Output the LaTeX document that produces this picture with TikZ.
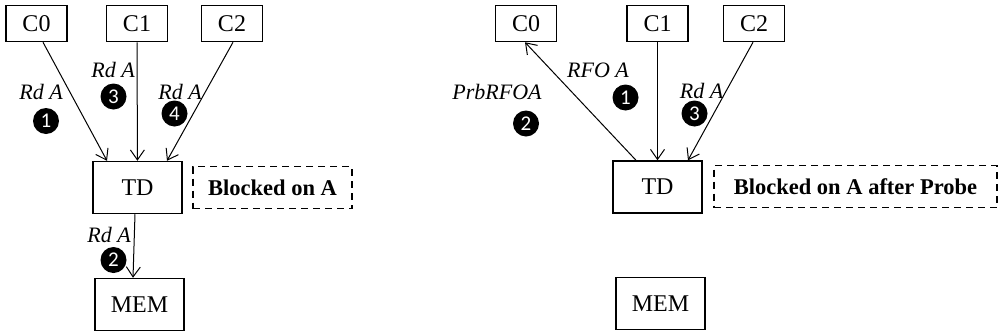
\documentclass[tikz,border=0pt]{standalone}
\usepackage{fontspec}
\setmainfont{Liberation Serif}
\newfontfamily\digitfont{Carlito}
\usetikzlibrary{shapes,arrows.meta}

\begin{document}
\begin{tikzpicture}[x=1pt, y=-1pt, line width=1pt,
    box/.style={draw, line width=1.5pt, minimum width=61pt, minimum height=36pt, inner sep=0pt, font=\fontsize{24}{28}\selectfont},
    bigbox/.style={box, minimum width=89pt, minimum height=52pt},
    note/.style={draw, line width=1.5pt, dash pattern=on 7pt off 5pt, minimum height=42pt, inner sep=0pt, font=\fontsize{22.5}{26}\selectfont\bfseries},
    msg/.style={inner sep=0pt, font=\fontsize{22}{25}\selectfont\itshape},
    num/.style={circle, fill=black, text=white, minimum size=26pt, inner sep=0pt, font=\digitfont\fontsize{21}{21}\selectfont},
    >={Straight Barb[length=10pt,width=14pt]}]
	\useasboundingbox (0,0) rectangle (1001,335);
	% left: plain read
	\foreach \i/\x in {0/36.5, 1/137, 2/232}
		\node[box] (a\i) at (\x,23.5) {C\i};
	\node[bigbox] (aTD) at (137.5,187.5) {TD};
	\node[bigbox] (aMEM) at (139.5,304.5) {MEM};
	\node[note, minimum width=159pt] (anote) at (272.5,187.5) {Blocked on A};
		\draw[->] ([xshift=6.5pt]a0.south) -- ([xshift=-30.5pt]aTD.north);
		\draw[->] (a1) -- (aTD);
		\draw[->] ([xshift=1pt]a2.south) -- ([xshift=29.5pt]aTD.north);
		\draw[->] ([xshift=-2.5pt]aTD.south) -- ([xshift=-6.5pt]aMEM.north);
	\node[msg] (ra1) at (41,92) {Rd A};
	\node[msg] (ra3) at (113,70) {Rd A};
	\node[msg] (ra4) at (180,92) {Rd A};
	\node[msg] (ra2) at (109,235) {Rd A};
	\node[num] (na1) at (46,121) {1};
	\node[num] (na3) at (113.5,96.5) {3};
	\node[num] (na4) at (174.5,113.5) {4};
	\node[num] (na2) at (113.5,260) {2};
	% right: RFO with probe
	\foreach \i/\x in {0/526, 1/657.5, 2/754}
		\node[box] (b\i) at (\x,23.5) {C\i};
	\node[bigbox] (bTD) at (657.5,187) {TD};
	\node[bigbox] (bMEM) at (660.5,303.5) {MEM};
	\node[note, minimum width=283pt] (bnote) at (855.5,186.5) {Blocked on A after Probe};
		\draw[->] ([xshift=-21.5pt]bTD.north) -- ([xshift=-1pt]b0.south);
		\draw[->] (b1) -- (bTD);
		\draw[->] ([xshift=-1pt]b2.south) -- ([xshift=30.5pt]bTD.north);
	\node[msg] (rb1) at (598,70) {RFO A};
	\node[msg] (rb2) at (497,92) {PrbRFOA};
	\node[msg] (rb3) at (701.5,91) {Rd A};
	\node[num] (nb1) at (625.5,97.5) {1};
	\node[num] (nb2) at (526,123.5) {2};
	\node[num] (nb3) at (694.5,113.5) {3};
\end{tikzpicture}
\end{document}
